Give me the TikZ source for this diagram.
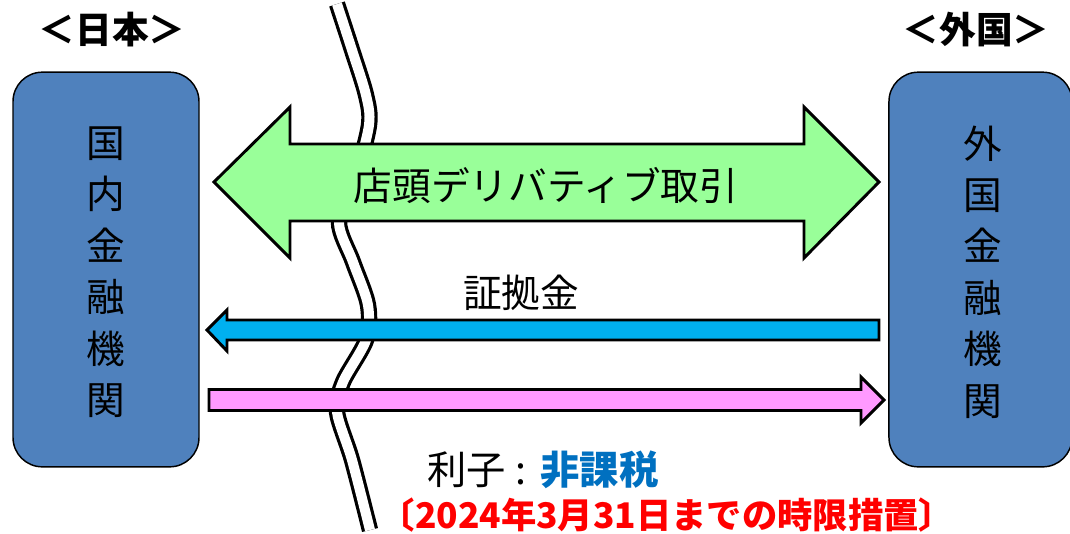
\documentclass[tikz,border=0pt]{standalone}
\usepackage{fontspec}
\setmainfont{Noto Sans CJK JP}
\usepackage{tikz}
\definecolor{bankblue}{HTML}{4F81BD}
\definecolor{otcgreen}{HTML}{99FF99}
\definecolor{marginblue}{HTML}{00B0F0}
\definecolor{interestpink}{HTML}{FF99FF}
\definecolor{taxblue}{HTML}{0070C0}
\definecolor{limitred}{HTML}{FF0000}
\tikzset{
  bank/.style={draw,line width=1.1pt,fill=bankblue,rounded corners=22pt,inner sep=0pt},
  jtext/.style={font=\fontsize{29}{38.6}\selectfont,inner sep=0pt},
  headtext/.style={font=\fontsize{27.5}{30}\selectfont\bfseries,inner sep=0pt},
  bigarrow/.style={line width=2.2pt,line join=miter}
}

\begin{document}
\begin{tikzpicture}[x=0.75pt,y=-0.75pt]
\useasboundingbox (0,0) rectangle (1070,533);

  % the border between the two sides
  \draw [line width=2.4pt,double=white,double distance=7.5pt]
    plot [smooth] coordinates {(337,4) (352,50) (366,95) (369,125) (355,180) (339,222)
      (353,262) (368,305) (366,340) (343,382) (337,412) (352,460) (370,530)};

  \node (jphead) at (112,30) [headtext] {＜日本＞};
  \node (frhead) at (976,30) [headtext] {＜外国＞};

  \node (jpbox) at (106,269.5) [bank,minimum width=139.5pt,minimum height=296pt] {};
  \node (frbox) at (980.5,269.5) [bank,minimum width=137.3pt,minimum height=296pt] {};
  \node (jpname) at (106,272) [jtext,align=center] {国\\内\\金\\融\\機\\関};
  \node (frname) at (983,272) [jtext,align=center] {外\\国\\金\\融\\機\\関};

  \draw [bigarrow,fill=otcgreen] (214,182) -- (290,107) -- (290,144) -- (804,144) -- (804,107)
    -- (879,182) -- (804,258) -- (804,221) -- (290,221) -- (290,258) -- cycle;
  \node (otc) at (546,185) [jtext] {店頭デリバティブ取引};

  \node (margin) at (521,293) [jtext] {証拠金};
  \draw [bigarrow,fill=marginblue] (207,330) -- (227,310) -- (227,320) -- (879,320)
    -- (879,340) -- (227,340) -- (227,351) -- cycle;

  \draw [bigarrow,fill=interestpink] (209,389.5) -- (861,389.5) -- (861,377) -- (884,400)
    -- (861,423) -- (861,410.5) -- (209,410.5) -- cycle;

  \node (interest) at (543,470) [jtext,font=\fontsize{29.5}{38.6}\selectfont]
    {利子\hspace{0.25em}:\hspace{0.35em}\textcolor{taxblue}{\bfseries 非課税}};
  \node (limit) at (667,515) [jtext,text=limitred,font=\fontsize{26.5}{30}\selectfont\bfseries]
    {〔2024年3月31日までの時限措置〕};

\end{tikzpicture}
\end{document}
